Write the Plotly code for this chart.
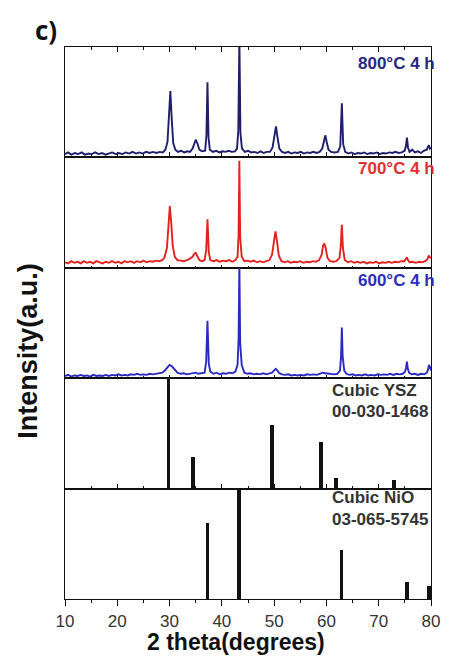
import plotly.graph_objects as go
from plotly.subplots import make_subplots

# ---- measured XRD patterns (2 theta in degrees, intensity normalised to panel height) ----
tt_800 = [10.0, 10.6, 11.2, 11.9, 12.5, 13.2, 13.8, 14.5, 15.1, 15.8, 16.4, 17.1, 17.7, 18.4, 19.0,
          19.7, 20.3, 21.0, 21.6, 22.3, 22.9, 23.6, 24.2, 24.9, 25.5, 26.2, 26.8, 27.5, 28.1, 28.7,
          29.2, 29.6, 29.9, 30.15, 30.4, 30.7, 31.1, 31.6, 32.2, 32.8, 33.4, 33.9,
          34.4, 34.75, 35.0, 35.3, 35.7, 36.2, 36.8, 37.05, 37.25, 37.45, 37.7,
          38.3, 38.9, 39.5, 40.1, 40.7, 41.3, 41.9, 42.5, 42.9, 43.15, 43.35, 43.55, 43.85, 44.4,
          45.0, 45.6, 46.2, 46.8, 47.4, 48.0, 48.6, 49.2, 49.7, 50.05, 50.35, 50.65, 51.0, 51.5,
          52.1, 52.7, 53.3, 53.9, 54.5, 55.1, 55.7, 56.3, 56.9, 57.5, 58.1, 58.7, 59.2,
          59.55, 59.8, 60.05, 60.4, 60.9, 61.5, 62.2, 62.65, 62.95, 63.2, 63.6,
          64.2, 64.8, 65.4, 66.0, 66.6, 67.2, 67.8, 68.4, 69.0, 69.6, 70.2, 70.8, 71.4, 72.0, 72.6,
          73.2, 73.8, 74.4, 74.95, 75.2, 75.4, 75.6, 75.9, 76.4, 76.9, 77.5, 78.1, 78.6, 79.2,
          79.45, 79.6, 79.8, 80.0]
int_800 = [0.03, 0.045, 0.025, 0.04, 0.03, 0.045, 0.025, 0.035, 0.03, 0.045, 0.03, 0.04, 0.025, 0.035, 0.045,
           0.03, 0.04, 0.03, 0.045, 0.035, 0.05, 0.035, 0.045, 0.035, 0.05, 0.04, 0.05, 0.04, 0.05, 0.045,
           0.07, 0.14, 0.38, 0.60, 0.36, 0.13, 0.07, 0.05, 0.06, 0.045, 0.055, 0.05,
           0.08, 0.14, 0.16, 0.13, 0.07, 0.055, 0.06, 0.2, 0.68, 0.18, 0.07,
           0.05, 0.06, 0.045, 0.055, 0.05, 0.06, 0.05, 0.055, 0.08, 0.25, 1.1, 0.22, 0.08, 0.05,
           0.06, 0.045, 0.05, 0.04, 0.055, 0.04, 0.05, 0.05, 0.09, 0.2, 0.28, 0.18, 0.08, 0.05,
           0.04, 0.05, 0.035, 0.045, 0.04, 0.05, 0.035, 0.045, 0.04, 0.05, 0.04, 0.05, 0.08,
           0.15, 0.2, 0.14, 0.07, 0.05, 0.045, 0.05, 0.1, 0.49, 0.12, 0.05,
           0.035, 0.045, 0.03, 0.04, 0.035, 0.045, 0.03, 0.04, 0.035, 0.045, 0.03, 0.04, 0.035, 0.045, 0.04,
           0.05, 0.04, 0.045, 0.06, 0.1, 0.18, 0.09, 0.05, 0.07, 0.045, 0.055, 0.04, 0.06, 0.07,
           0.1, 0.11, 0.08, 0.09]

tt_700 = [10.0, 10.6, 11.2, 11.8, 12.4, 13.0, 13.6, 14.2, 14.8, 15.4, 16.0, 16.6, 17.2, 17.8, 18.4,
          19.0, 19.6, 20.2, 20.8, 21.4, 22.0, 22.6, 23.2, 23.8, 24.4, 25.0, 25.6, 26.2, 26.8, 27.4,
          28.0, 28.6, 29.0, 29.5, 29.8, 30.05, 30.3, 30.6, 31.0, 31.5, 32.1, 32.7, 33.3, 33.8,
          34.4, 34.75, 35.0, 35.3, 35.7, 36.2, 36.7, 37.0, 37.25, 37.5, 37.8,
          38.4, 39.0, 39.6, 40.2, 40.8, 41.4, 42.0, 42.6, 43.0, 43.2, 43.35, 43.5, 43.8, 44.3,
          44.9, 45.5, 46.1, 46.7, 47.3, 47.9, 48.5, 49.1, 49.6, 49.95, 50.25, 50.55, 50.9, 51.4,
          52.0, 52.6, 53.2, 53.8, 54.4, 55.0, 55.6, 56.2, 56.8, 57.4, 58.0, 58.6, 59.1,
          59.35, 59.6, 59.85, 60.2, 60.7, 61.3, 61.9, 62.5, 62.75, 62.95, 63.15, 63.5,
          64.1, 64.7, 65.3, 65.9, 66.5, 67.1, 67.7, 68.3, 68.9, 69.5, 70.1, 70.7, 71.3, 71.9, 72.5,
          73.1, 73.7, 74.3, 74.9, 75.2, 75.4, 75.6, 75.9, 76.5, 77.1, 77.7, 78.3, 78.9, 79.3,
          79.55, 79.75, 80.0]
int_700 = [0.05, 0.04, 0.06, 0.045, 0.055, 0.04, 0.06, 0.045, 0.055, 0.04, 0.06, 0.05, 0.04, 0.055, 0.045,
           0.06, 0.045, 0.055, 0.04, 0.06, 0.05, 0.06, 0.045, 0.06, 0.05, 0.065, 0.05, 0.06, 0.055, 0.065,
           0.06, 0.07, 0.09, 0.18, 0.38, 0.56, 0.42, 0.2, 0.1, 0.07, 0.065, 0.06, 0.07, 0.08,
           0.1, 0.13, 0.135, 0.11, 0.07, 0.06, 0.07, 0.16, 0.44, 0.14, 0.07,
           0.06, 0.07, 0.055, 0.065, 0.06, 0.07, 0.055, 0.07, 0.1, 0.3, 0.97, 0.28, 0.1, 0.06,
           0.065, 0.055, 0.065, 0.05, 0.06, 0.05, 0.06, 0.07, 0.12, 0.25, 0.33, 0.24, 0.11, 0.06,
           0.05, 0.06, 0.045, 0.055, 0.05, 0.06, 0.045, 0.055, 0.05, 0.06, 0.055, 0.07, 0.12,
           0.2, 0.22, 0.18, 0.09, 0.06, 0.055, 0.06, 0.09, 0.2, 0.39, 0.18, 0.07,
           0.05, 0.06, 0.045, 0.055, 0.045, 0.055, 0.04, 0.05, 0.045, 0.055, 0.04, 0.05, 0.045, 0.055, 0.045,
           0.055, 0.05, 0.06, 0.06, 0.08, 0.095, 0.07, 0.05, 0.055, 0.045, 0.055, 0.05, 0.06, 0.075,
           0.11, 0.1, 0.085]

tt_600 = [10.0, 10.6, 11.2, 11.8, 12.4, 13.0, 13.6, 14.2, 14.8, 15.4, 16.0, 16.6, 17.2, 17.8, 18.4,
          19.0, 19.6, 20.2, 20.8, 21.4, 22.0, 22.6, 23.2, 23.8, 24.4, 25.0, 25.6, 26.2, 26.8, 27.4,
          28.0, 28.6, 29.1, 29.6, 30.0, 30.4, 30.9, 31.5, 32.1, 32.7, 33.3, 33.9, 34.5, 35.0,
          35.5, 36.1, 36.7, 37.0, 37.25, 37.5, 37.8,
          38.4, 39.0, 39.6, 40.2, 40.8, 41.4, 42.0, 42.6, 43.0, 43.2, 43.35, 43.5, 43.8, 44.3,
          44.9, 45.5, 46.1, 46.7, 47.3, 47.9, 48.5, 49.1, 49.6, 50.0, 50.3, 50.6, 51.0, 51.5,
          52.1, 52.7, 53.3, 53.9, 54.5, 55.1, 55.7, 56.3, 56.9, 57.5, 58.1, 58.7, 59.3, 59.8,
          60.3, 60.9, 61.5, 62.1, 62.6, 62.8, 62.95, 63.1, 63.4, 63.8,
          64.4, 65.0, 65.6, 66.2, 66.8, 67.4, 68.0, 68.6, 69.2, 69.8, 70.4, 71.0, 71.6, 72.2, 72.8,
          73.4, 74.0, 74.6, 75.05, 75.25, 75.4, 75.55, 75.8, 76.3, 76.9, 77.5, 78.1, 78.7, 79.2,
          79.45, 79.6, 79.8, 80.0]
int_600 = [0.02, 0.03, 0.015, 0.025, 0.02, 0.03, 0.02, 0.025, 0.015, 0.03, 0.02, 0.025, 0.02, 0.03, 0.02,
           0.03, 0.025, 0.035, 0.025, 0.03, 0.025, 0.035, 0.03, 0.04, 0.03, 0.035, 0.03, 0.04, 0.035, 0.04,
           0.04, 0.05, 0.07, 0.1, 0.12, 0.11, 0.08, 0.05, 0.04, 0.045, 0.035, 0.04, 0.045, 0.05,
           0.04, 0.045, 0.05, 0.15, 0.52, 0.13, 0.06,
           0.04, 0.05, 0.035, 0.045, 0.04, 0.05, 0.045, 0.06, 0.12, 0.35, 1.05, 0.32, 0.12, 0.05,
           0.04, 0.045, 0.035, 0.04, 0.035, 0.045, 0.035, 0.04, 0.05, 0.07, 0.085, 0.07, 0.045, 0.035,
           0.03, 0.035, 0.025, 0.03, 0.025, 0.03, 0.025, 0.035, 0.03, 0.035, 0.03, 0.04, 0.05, 0.045,
           0.04, 0.035, 0.035, 0.04, 0.07, 0.2, 0.46, 0.2, 0.07, 0.04,
           0.03, 0.035, 0.025, 0.03, 0.025, 0.035, 0.025, 0.03, 0.025, 0.035, 0.03, 0.035, 0.03, 0.04, 0.03,
           0.04, 0.035, 0.04, 0.06, 0.1, 0.15, 0.09, 0.05, 0.035, 0.04, 0.03, 0.04, 0.035, 0.05,
           0.08, 0.12, 0.1, 0.07]

# ---- reference cards (stick patterns) ----
ysz_pos = [29.8, 34.45, 49.55, 59.0, 61.85, 72.9]
ysz_int = [1.0, 0.28, 0.57, 0.42, 0.09, 0.08]
nio_pos = [37.25, 43.3, 62.9, 75.4, 79.6]
nio_int = [0.69, 1.0, 0.45, 0.155, 0.12]

labels = ["800°C 4 h", "700°C 4 h", "600°C 4 h"]
card_lines = ["Cubic YSZ", "00-030-1468", "Cubic NiO", "03-065-5745"]
x_ticks = [10, 20, 30, 40, 50, 60, 70, 80]

line_colors = ["#1e1e6c", "#e3211d", "#2a2ac2"]
label_colors = ["#28287e", "#e23030", "#2e2eb8"]

FONT = "Arial, Liberation Sans, sans-serif"

fig = make_subplots(rows=5, cols=1, shared_xaxes=True, vertical_spacing=0)

for i, (tt, inten) in enumerate([(tt_800, int_800), (tt_700, int_700), (tt_600, int_600)]):
    fig.add_trace(go.Scatter(x=tt, y=inten, mode="lines",
                             line=dict(color=line_colors[i], width=1.9),
                             showlegend=False, hoverinfo="skip"),
                  row=i + 1, col=1)

for r, (pos, inten) in enumerate([(ysz_pos, ysz_int), (nio_pos, nio_int)]):
    fig.add_trace(go.Bar(x=pos, y=inten, width=0.72,
                         marker=dict(color="#111111", line=dict(width=0)),
                         showlegend=False, hoverinfo="skip"),
                  row=r + 4, col=1)

axis_common = dict(range=[10, 80], showline=True, linecolor="#111111", linewidth=1.2,
                   showgrid=False, zeroline=False)
for r in range(1, 6):
    bottom = r == 5
    top = r == 1
    inner = not (top or bottom or r == 4)
    fig.update_xaxes(row=r, col=1, **axis_common,
                     mirror="ticks" if top else True,
                     tickmode="array", tickvals=x_ticks,
                     ticks="outside" if bottom else "inside",
                     ticklen=6 if bottom else (3 if inner else 5), tickwidth=1.2,
                     tickcolor="#111111",
                     minor=dict(dtick=5, tick0=10, ticks="outside" if bottom else "inside",
                                ticklen=3 if not inner else 2, tickwidth=1.1,
                                tickcolor="#111111"),
                     showticklabels=bottom,
                     tickfont=dict(family=FONT, size=17, color="#333333"))
    fig.update_yaxes(row=r, col=1, range=[0, 1], showline=True, linecolor="#111111",
                     linewidth=1.2, mirror=True, ticks="", showticklabels=False,
                     showgrid=False, zeroline=False)

W, H = 452, 657
L, R, T, B = 65, 13, 47, 58
pw, ph = W - L - R, H - T - B


def px(xp):
    return (xp - L) / pw


def py(yp):
    return (H - B - yp) / ph


annotations = []
for lab, col, yc in zip(labels, label_colors, [63, 168, 280]):
    annotations.append(dict(text=lab, x=px(445), y=py(yc), xref="paper", yref="paper",
                            xanchor="right", yanchor="middle", showarrow=False,
                            font=dict(family=FONT, size=17, color=col, weight="bold")))
for lab, yc in zip(card_lines, [390, 411, 497, 519]):
    annotations.append(dict(text=lab, x=px(336), y=py(yc), xref="paper", yref="paper",
                            xanchor="left", yanchor="middle", align="left", showarrow=False,
                            font=dict(family=FONT, size=17, color="#333333", weight="bold")))
annotations.append(dict(text="2 theta(degrees)", x=px(240), y=py(642), xref="paper", yref="paper",
                        xanchor="center", yanchor="middle", showarrow=False,
                        font=dict(family=FONT, size=23, color="#111111", weight="bold")))
annotations.append(dict(text="Intensity(a.u.)", x=px(27), y=py(351), xref="paper", yref="paper",
                        xanchor="center", yanchor="middle", textangle=-90, showarrow=False,
                        font=dict(family=FONT, size=27, color="#111111", weight="bold")))
annotations.append(dict(text="c)", x=px(46), y=py(30), xref="paper", yref="paper",
                        xanchor="center", yanchor="middle", showarrow=False,
                        font=dict(family="Open Sans, Arial, sans-serif", size=26,
                                  color="#111111", weight="bold")))

fig.update_layout(width=W, height=H, margin=dict(l=L, r=R, t=T, b=B),
                  paper_bgcolor="white", plot_bgcolor="white",
                  annotations=annotations, bargap=0)

fig.write_html("out.html")
